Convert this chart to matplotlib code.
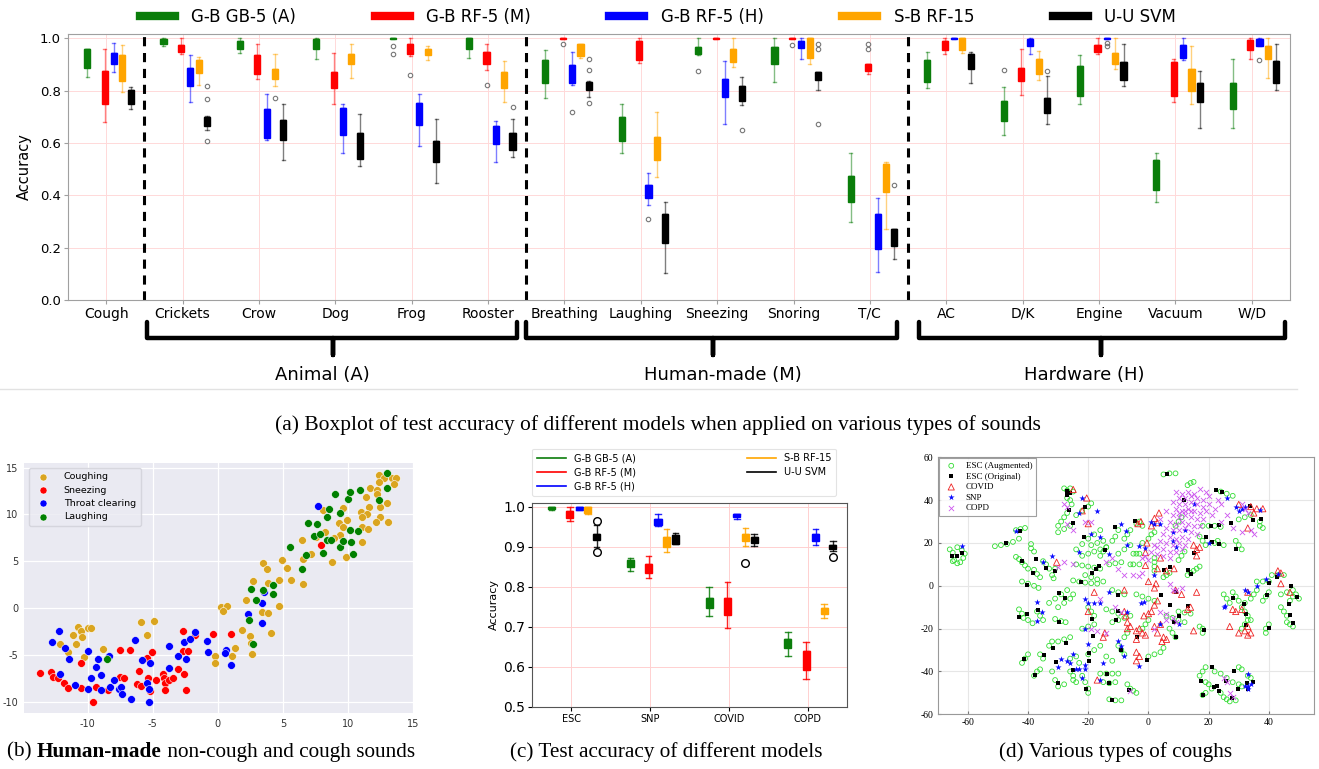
import numpy as np
import matplotlib
matplotlib.use('Agg')
import matplotlib.pyplot as plt
from matplotlib.lines import Line2D
from matplotlib.transforms import blended_transform_factory

plt.rcParams['axes.unicode_minus'] = False

# ---------------- data: (a) boxplot per sound type ----------------
categories = ['Cough', 'Crickets', 'Crow', 'Dog', 'Frog', 'Rooster',
              'Breathing', 'Laughing', 'Sneezing', 'Snoring', 'T/C',
              'AC', 'D/K', 'Engine', 'Vacuum', 'W/D']
model_names = ['G-B GB-5 (A)', 'G-B RF-5 (M)', 'G-B RF-5 (H)', 'S-B RF-15', 'U-U SVM']
model_colors = ['#0a7d0a', '#ff0000', '#0000ff', '#ffa500', '#000000']

gb5_q1 = [.887, .976, .958, .960, .998, .958, .830, .607, .939, .903, .375, .832, .684, .781, .422, .728]
gb5_q3 = [.957, .996, .990, .996, 1.00, 1.00, .916, .700, .967, .967, .473, .916, .761, .892, .534, .830]
gb5_lo = [.850, .969, .945, .919, .998, .925, .770, .562, .935, .832, .298, .809, .631, .748, .375, .658]
gb5_hi = [.960, 1.00, 1.00, 1.00, 1.00, 1.00, .954, .748, 1.00, 1.00, .560, .949, .812, .935, .560, .919]
gb5_fl = {'Frog': [.971, .941], 'Sneezing': [.875], 'D/K': [.878]}

rfm_q1 = [.748, .948, .865, .808, .941, .903, .998, .916, .998, .998, .875, .954, .837, .948, .781, .954]
rfm_q3 = [.875, .973, .935, .871, .976, .948, 1.00, .990, 1.00, 1.00, .900, .990, .888, .973, .910, .994]
rfm_lo = [.681, .939, .843, .747, .931, .880, .998, .906, .998, .998, .863, .941, .784, .941, .756, .919]
rfm_hi = [.957, .999, .977, .944, 1.00, .976, 1.00, 1.00, 1.00, 1.00, .900, 1.00, .957, 1.00, .922, 1.00]
rfm_fl = {'Frog': [.859], 'Rooster': [.822], 'Breathing': [.977], 'Snoring': [.975], 'T/C': [.976, .957]}

rfh_q1 = [.903, .817, .618, .632, .670, .597, .827, .391, .775, .963, .193, .998, .971, .998, .926, .971]
rfh_q3 = [.945, .888, .728, .734, .753, .665, .896, .438, .844, .990, .329, 1.00, .997, 1.00, .973, .997]
rfh_lo = [.871, .757, .613, .562, .590, .529, .821, .361, .674, .922, .108, .998, .941, .998, .916, .971]
rfh_hi = [.982, .935, .785, .748, .785, .682, .948, .486, .911, 1.00, .388, 1.00, 1.00, 1.00, 1.00, 1.00]
rfh_fl = {'Breathing': [.718], 'Laughing': [.308], 'Engine': [.980, .972], 'W/D': [.915]}

sb_q1 = [.836, .866, .846, .900, .935, .808, .931, .534, .908, .926, .411, .954, .863, .903, .798, .919]
sb_q3 = [.935, .916, .883, .941, .958, .871, .976, .623, .960, 1.00, .519, 1.00, .922, .945, .884, .971]
sb_lo = [.795, .820, .818, .847, .916, .757, .926, .471, .891, .900, .270, .944, .840, .884, .748, .849]
sb_hi = [.973, .929, .941, .976, .971, .911, .976, .718, 1.00, 1.00, .528, 1.00, .952, 1.00, .971, 1.00]
sb_fl = {'Crow': [.771]}

svm_q1 = [.747, .665, .613, .537, .528, .573, .804, .216, .760, .842, .206, .882, .716, .842, .756, .827]
svm_q3 = [.802, .700, .687, .636, .607, .636, .833, .327, .819, .869, .270, .941, .772, .910, .830, .913]
svm_lo = [.728, .651, .534, .513, .445, .545, .776, .104, .743, .804, .156, .827, .674, .817, .658, .804]
svm_hi = [.814, .702, .748, .710, .690, .693, .836, .375, .850, .869, .270, .949, .855, .976, .873, .976]
svm_fl = {'Crickets': [.819, .768, .608], 'Rooster': [.738], 'Breathing': [.921, .878, .753],
          'Sneezing': [.648], 'Snoring': [.976, .957, .674], 'T/C': [.441], 'D/K': [.873]}

# ---------------- data: (b) t-SNE of human-made sounds ----------------
cough_x = [12.40, 12.76, 13.35, 13.66, 12.37, 13.53, 11.70, 12.22, 12.22, 11.37, 13.01, 11.63, 12.47, 8.10,
           9.62, 11.01, 11.45, 11.06, 12.47, 13.09, 12.19, 9.31, 9.93, 9.62, 11.09, 11.57, 8.20, 9.36, 7.56,
           8.92, 11.06, 6.48, 9.88, 7.15, 8.80, 6.56, 4.91, 3.50, 5.35, 3.76, 3.88, 4.68, 2.70, 5.63, 6.56,
           2.13, 4.68, 0.28, 0.69, 0.41, 3.37, 3.83, 4.09, 1.85, 2.44, 2.55, 2.60, 1.34, 1.11, -0.23, -0.23,
           -10.75, -10.52, -10.01, -9.72, -11.16, -10.44, -12.14, -10.88, -11.52, -10.26, -8.82, -5.89,
           -4.89, -5.48]
cough_y = [14.27, 13.92, 13.95, 13.95, 13.49, 13.31, 12.85, 12.60, 12.14, 11.89, 11.18, 10.83, 10.76, 10.47,
           10.72, 10.26, 10.05, 9.76, 9.76, 9.23, 9.23, 9.12, 9.41, 8.63, 8.70, 8.41, 8.13, 7.77, 7.56,
           7.53, 7.03, 7.28, 5.47, 5.79, 4.97, 5.25, 5.15, 4.79, 4.26, 4.15, 2.66, 3.02, 2.91, 3.02, 2.56,
           0.82, 0.18, 0.14, 0.25, -0.32, -0.46, -0.53, -2.70, -2.34, -2.98, -3.73, -4.86, -4.30, -5.15,
           -5.15, -5.89, -2.02, -2.48, -2.13, -2.13, -2.88, -3.09, -3.80, -3.80, -4.69, -5.18, -4.33,
           -1.46, -1.38, -2.84]
sneeze_x = [-13.66, -12.81, -12.68, -12.29, -11.86, -11.55, -10.52, -10.49, -9.59, -9.34, -8.41, -7.54,
            -7.51, -7.18, -6.76, -6.22, -6.07, -5.94, -5.48, -5.40, -5.25, -5.07, -4.73, -4.24, -4.17,
            -4.06, -4.06, -3.76, -3.45, -3.09, -2.70, -2.70, -2.57, -2.47, -2.26, -1.75, -0.41, 1.00, 7.90]
sneeze_y = [-6.92, -6.85, -7.38, -7.45, -7.99, -8.56, -8.48, -5.86, -10.01, -8.38, -8.70, -4.51, -7.38,
            -7.49, -4.51, -8.06, -6.74, -8.27, -5.29, -7.49, -8.80, -4.69, -7.63, -7.06, -7.45, -7.99,
            -8.70, -7.70, -7.49, -6.46, -2.41, -4.54, -7.03, -8.70, -4.58, -2.91, -2.73, -2.73, 6.71]
throat_x = [-12.73, -12.19, -12.14, -11.78, -11.42, -10.98, -9.98, -9.98, -9.77, -9.34, -9.18, -8.95,
            -8.95, -8.36, -8.31, -7.97, -7.61, -7.46, -7.36, -6.64, -6.33, -5.81, -5.45, -5.30, -5.22,
            -5.30, -3.76, -3.73, -3.09, -2.60, -2.44, -2.16, -1.75, -0.87, -0.77, 0.62, 0.57, 1.03, 2.31,
            3.40, 3.37, 3.58, 7.66]
throat_y = [-3.66, -2.48, -6.99, -4.30, -5.40, -8.16, -8.59, -4.58, -7.42, -6.32, -5.40, -8.70, -7.17,
            -5.15, -8.45, -7.70, -8.63, -8.41, -9.16, -9.66, -3.44, -5.54, -7.95, -8.63, -5.86, -9.98,
            -4.01, -6.39, -5.11, -3.66, -5.43, -3.30, -2.59, -3.55, -4.69, -4.51, -4.79, -6.07, -0.67,
            0.60, -1.60, 1.70, 10.93]
laugh_x = [-8.54, 2.37, 2.52, 2.93, 3.45, 4.27, 4.27, 2.73, 5.56, 6.43, 6.74, 6.92, 7.36, 7.64, 7.82, 8.10,
           8.36, 8.38, 8.54, 8.67, 9.03, 9.41, 9.39, 9.59, 9.98, 10.13, 10.19, 10.24, 10.39, 10.80, 10.91,
           12.37, 12.99, 13.01]
laugh_y = [-5.47, -1.24, 2.02, 0.92, 1.92, 2.45, 1.49, -3.83, 6.50, 4.19, 5.64, 9.12, 7.74, 8.95, 7.88,
           5.89, 9.69, 7.28, 10.54, 7.31, 12.18, 10.19, 6.50, 7.14, 11.68, 12.42, 8.31, 7.03, 5.79, 8.20,
           12.60, 11.54, 14.41, 12.85]

# ---------------- data: (c) test accuracy per dataset ----------------
datasets = ['ESC', 'SNP', 'COVID', 'COPD']
c_gb5_q1 = [.993, .850, .746, .646]
c_gb5_q3 = [1.00, .867, .772, .669]
c_gb5_lo = [.992, .839, .727, .628]
c_gb5_hi = [1.00, .871, .800, .688]
c_rfm_q1 = [.971, .835, .729, .592]
c_rfm_q3 = [.988, .858, .772, .640]
c_rfm_lo = [.963, .821, .696, .571]
c_rfm_hi = [1.00, .878, .812, .663]
c_rfh_q1 = [.992, .954, .973, .914]
c_rfh_q3 = [1.00, .969, .981, .931]
c_rfh_lo = [.992, .952, .969, .903]
c_rfh_hi = [1.00, .981, .981, .943]
c_sb_q1 = [.983, .898, .915, .732]
c_sb_q3 = [1.00, .923, .931, .746]
c_sb_lo = [.982, .886, .902, .721]
c_sb_hi = [1.00, .943, .946, .756]
c_sb_fl = {'COVID': [.860]}
c_svm_q1 = [.917, .907, .908, .893]
c_svm_q3 = [.931, .929, .925, .904]
c_svm_lo = [.900, .907, .902, .888]
c_svm_hi = [.954, .933, .932, .915]
c_svm_fl = {'ESC': [.963, .886], 'COPD': [.875]}

# ---------------- data: (d) t-SNE of cough types ----------------
esc_orig_x = [-65.3, -63.7, -61.8, -47.2, -42.5, -41.9, -38.5, -40.5, -43.0, -40.5, -37.2, -34.1, -31.0, -36.7,
              -29.8, -29.8, -27.8, -27.2, -27.1, -26.1, -26.4, -24.9, -21.2, -21.3, -22.4, -18.6, -17.4, -16.4,
              -14.5, -11.0, -10.2, -10.0, -10.7, -9.2, -4.3, -3.8, -0.4, 6.3, 5.1, 7.0, 4.1, 7.2, 8.5, 9.1, 9.1,
              10.2, 11.8, 13.2, 14.2, 13.2, 15.2, 18.3, 19.2, 20.7, 21.0, 22.6, 23.5, 23.5, 24.3, 27.4, 28.2,
              29.1, 31.9, 32.4, 32.4, 33.8, 34.9, 37.5, 39.5, 39.9, 40.0, 42.6, 47.2, 46.7, 47.0, 48.1, 49.5,
              -41.4, -37.8, -34.7, -31.6, -30.7, -30.2, -27.5, -24.9, -20.8, -19.8, -19.6, -18.6, -18.5, -13.7,
              -13.1, -12.0, -6.3, 17.4, 18.1, 21.0, 21.8, 22.9, 23.3, 25.7, 27.8, 28.5, 29.8, 32.9, 33.2, 34.9]
esc_orig_y = [13.9, 13.9, 15.4, 20.1, 25.5, 11.5, 5.8, 0.3, -14.8, -13.2, 12.3, 8.3, 6.9, -11.4, -16.7, -3.3,
              -5.8, 44.4, 42.4, 43.1, 35.4, 29.1, 36.9, 22.9, 1.6, 6.2, 7.8, 9.2, 16.7, 27.3, -4.4, -11.7, -16.0,
              -30.1, 30.2, -24.1, -34.7, 52.2, 7.3, 8.9, -4.5, -9.0, -16.7, -3.1, -23.8, -14.0, 39.9, 7.3, 5.5,
              -9.3, 15.4, -20.7, 22.6, 27.9, 20.4, 44.7, 28.2, 19.3, 43.9, 29.4, -5.9, 17.1, -8.3, -13.2, -18.5,
              37.4, 30.8, 31.2, -4.5, 1.4, -19.6, 4.2, -0.2, -8.7, -13.7, -17.6, -5.1, -34.4, -41.7, -32.1,
              -29.1, -35.5, -45.6, -26.9, -39.4, -48.3, -31.3, -35.0, -15.3, -23.4, -41.3, -45.6, -53.4, -48.8,
              -44.4, -51.1, -37.9, -47.2, -46.6, -49.1, -44.4, -52.2, -39.9, -48.0, -45.3, -48.0, -44.9]
esc_aug_x = [-66, -65, -64.5, -63.5, -62.5, -61.5, -62, -63.5, -65, -61, -51, -49, -47, -45, -43, -44, -42.5,
             -41, -39, -39, -38, -44, -43, -42, -41, -40, -38, -37, -36, -35, -34, -33, -32, -31.5, -31, -42,
             -40, -38, -36.5, -43, -42, -41.5, -40, -38.5, -37, -36, -35, -31, -29, -27.5, -33, -31, -29, -27,
             -30, -28, -26, -25, -30, -29, -28, -27, -28, -27, -26, -25, -27, -26, -25.5, -30, -28, -26, -24,
             -22, -20, -19, -24, -22, -20, -18, -16, -22, -20, -18, -16, -14, -25, -23, -21, -19, -17, -24,
             -22, -20, -18, -16, -21, -19, -17, -15, -16, -15, -14, -19, -17, -15, -12, -11, -10, -8, -7, -6,
             -10, -8, -6, -5, -4, -3, -13, -11, -9, -6, -5, -3, -4, -3, -2, -2, 0, 1, 2, 2, 2, 2, 2, 5, 6, 7,
             10, 11, 12, 9, 10, 11, 13, 14, 15, 16, 17, 13, 14, 15, 5, 7, 9, 24, 26, 28, 18, 20, 22, 24, 17,
             18, 19, 22, 23, 25, 29, 30, 31, 30, 32, 34, 37, 37, 38, 25, 26, 27, 28, 29, 30, 32, 31, 32, 33,
             34, 31, 32, 33, 34, 35, 36, 38, 39, 40, 39, 39, 40, 41, 43, 45, 36, 38, 40, 44, 46, 48, 44, 45,
             46, 46, 47, 48, 47, 48, 49, 50, -4, -2, 0, 2, -8, -10, -12, -6, -8, -10, -12, -14, -12, -10, -20,
             -19, -18, -22, -20, -18, -16, -18, -20, -14, -12, -22, -21, -20, -20, -26, -24, -23, -30, -28,
             -26, -33, -32, -32, -31, -30, -28, -26, -25, -25, -24, -38, -37, -36, -42, -41, -40, -36, -35,
             -16, -14, -12, -10, -15, -13, -11, -13, -11, -9, -7, -6, -5, -4, -10, -9, -8, 0, 2, 4, -8, -7, -2,
             -1, 0, 7, 8, 9, 6, 8, 10, 12, 10, 12, 14, 17, 18, 18, 17, 18, 19, 19, 20, 21, 22, 24, 26, 24, 25,
             26, 28, 30, 31, 27, 29, 30, 31, 33, 34, 18, 19, 5]
esc_aug_y = [17, 15.5, 12, 10.5, 11, 13, 16.5, 18, 11.5, 15, 18.5, 19, 19.5, 20.5, 22, 26, 26.5, 27, 19.5,
             17.5, 16, 13.5, 12.5, 11, 9.5, 8, 7.5, 5.5, 4, 11.5, 10, 8, 5, 3.5, 8, 2, 1, 0, -1, -11, -13, -15,
             -16, -17.5, -12, -14, -16, -15.5, -16.5, -17, -8, -6, -4, -2, -10, -8, -6, -4, 28, 30, 32, 34,
             45.5, 44.5, 45.5, 44, 41, 40, 38, 25, 26.5, 28, 33, 35, 37, 38.5, 17, 19.5, 22, 24, 26, 14, 15,
             16, 17, 18, 2.5, 2, 1.5, 1.2, 1, 10, 9.5, 9, 8.5, 8, 5, 4, 3, 2, 14, 16, 18, 19, 20, 21, 21, 23,
             26, 22, 24, 26, 15, 17, 19, 15, 15, 15, 10, 10.5, 11, 10, 10, 10, 29, 30, 28, 20, 22, 24, 25, 13,
             11, 9, 7, 4, 5, 6, 12, 14, 16, 28, 30, 32, 5, 6, 7, 8, 9, 47, 48, 48.5, 52, 52.5, 52.5, 44, 43,
             42, 28, 28, 28, 27.5, 23, 21, 19, 20, 21, 19, 21, 19, 17, 31, 32, 33, 30, 28, 27, -4, -6, -8,
             -3, -5, -7, -8, -10, -12, -14, -16, -20, -18, -16, -6, -4, -2, -7, -5, -3, -22, -20, -18, 5, 5,
             5, 2, 2, 2, -4, -3, -2, -10, -12, -14, -17, -18, -19, -7, -5, -4, -6, -4, -5, -6, -7, -4, -3, -2,
             -14, -15, -16, -17, -11, -12, -13, -10, -12, -14, -20, -19, -18, -28, -30, -32, -33, -35, -42,
             -45, -48, -50, -34, -33, -36, -26, -25, -24, -28, -26, -40, -44, -47, -46, -40, -42, -44, -45,
             -42, -40, -39, -36, -34, -32, -32, -34, -41, -41, -41, -41, -45, -45.5, -45, -53, -53.5, -53.5,
             -46, -48, -49, -50, -28, -30, -32, -33, -32, -31, -24, -22, -20, -18, -16, -20, -22, -24, -14,
             -15, -16, -17, -12, -12.5, -13, -19, -20, -22, -42, -40, -38, -45, -46, -48, -40, -41, -43, -50,
             -52, -53, -45, -46, -47, -54, -53.5, -38, -39, -42, -43, -51, -50, -29]
covid_x = [-25, -20.5, -22, -20, -30.5, -2.5, -3.5, 2, 3, 1, 3.5, -0.5, -1, 4, 6, 3, 8.5, -1, 0, 2.5, 2, -8,
           -18, -20, -15, -14.5, -8, -7.5, -7, -6, -7, -4, -3, -2, -1, -4, -1.5, 0, 1, 2, 3, 4, 2, 3, 5, 4.5,
           6, -4, -3, -4, -17, 9, 11, 13, 14, 15, 16, 15, 16, 16, 17, 28, 29, 31, 27, 30, 32, 33, 34, 33, 43,
           44, 44, 47, 33, 35, 36, 38, 34, 33, 30]
covid_y = [45, 41, 35, 29, 11, 30, 29, 31.5, 29.5, 28, 34, 20, 15.5, 13, 7, 8, 8, 9.5, 2, 1, -1, -2, -3, -12,
           -24, -22, -12, -14, -17, -19, -20, -21, -20, -22, -23, -25, -14, -13, -12, -9, -7, -18, -19, -22,
           -24, -26, -25, -31, -33, -35, -44, -2, -4, -11, -10, -21, -3, 19, 14, 17, 18, -11, -12, -11, -19,
           -22, -21, -23, -22, -19, 7, 6, 1, -3, -3, 34, 36, 36, 37, 27, 38]
snp_x = [-62, -44, -37, -37, -35.5, -35, -32, -23, -22, -23, -17, -19, -16, -13, -9, -7.5, -7, -3, -1, -21,
         -20, -18, -16, -13, -20, -21, -15, -10, -9, -8, -7, -2.5, -1.5, -3, 1, 2, 2, 4, 4, 8, 8, 9, 10, 12,
         15, 20, 26, 25, 25.5, 29, 30, 31, 32, 37, 32, 33, 36, 39, 43, -29, -30, -27, -26, -25, -24, -23,
         -22, -21, -21, -16, 33, 32, 33, 34, 33]
snp_y = [18.5, 25.5, -7.5, -16.5, -12, 11, 14, 16, 41, 34, 35, 24, 23, 15, 29, 25.5, 19, 18.5, 17.5, -6,
         -8, -8, -8, -3, -27, -20, -36, -26, -28, -33, -12, -8, -7.5, -37.5, 30, 29, 5, 29, -18, 25, 21, 18,
         -18, 26, 38, 20, 41, -10, -9.5, 37, 35, 36, 37, 35.5, -2, -3, 0, 3, 5.5, -34, -38, -35, -36, -32,
         -39, -39, -43, -39, -37, -44, -41, -47, -47, -46, -48]
copd_x = [9, 11, 13, 15, 10, 12, 14, 16, 18, 8, 10, 12, 14, 16, 18, 20, 9, 11, 13, 15, 17, 19, 8, 10, 12, 14,
          16, 18, 7, 9, 11, 13, 15, 17, 6, 8, 10, 12, 14, 16, 5, 7, 9, 11, 13, 4, 6, 8, 10, 12, 3, 5, 7, 9, 11,
          1, 3, 5, 7, -1, -2, 0, 2, 21, 22, 23, 24, 20, 17, 19, 6, 4, 14, 12, 10, -28, -27, -27, -25, -21, -19,
          -30, -28, -25, -14, -12, -10, -8, -5, -3, -2, -16, -19, -17, -14, -11, -9, 4, 6, 7, 8, 9, 11, 6, 9,
          8, 2, -6, 26, 27, 25, 28, 31, 32, 33, 34, 35, 31, 26, 24, 28]
copd_y = [44, 43, 44, 43, 41, 41, 42, 41, 40, 39, 38, 38, 39, 38, 37, 38, 36, 35, 36, 35, 34, 35, 33, 32, 33,
          32, 31, 31, 30, 29, 30, 29, 28, 28, 27, 26, 26, 27, 25, 24, 24, 23, 22, 23, 22, 21, 20, 19, 20, 19,
          18, 17, 16, 16, 17, 16, 15, 14, 13, 14, 13, 12, 19, 33, 36, 40, 38, 42, 45, 44, 35, 31, 35, 35, 34,
          38, 37, 29, 26, 30, 30, 9, 11, 10, 11, 13, 8, 5, 5, 4.5, 6, -6, -20, -21, -22, -10, -12, -12, -13,
          1, -2, -2, -1, -16, -17, -15, -20, -49, -45, -50, -43, -52, 38, 36, 34, 26, 24, 25, 33, 30, 27]

# ---------------- layout helpers ----------------
W, H = 1319, 769
fig = plt.figure(figsize=(W / 100, H / 100), dpi=100)


def fx(px):
    return px / W


def fy(py):
    return 1 - py / H


def draw_boxes(ax, names, q1, q3, lo, hi, fliers, pos, width, color, capw, fl_style, wh_alpha):
    stats = []
    for i, n in enumerate(names):
        stats.append(dict(q1=q1[i], q3=q3[i], med=q3[i], whislo=lo[i], whishi=hi[i],
                          fliers=fliers.get(n, [])))
    ax.bxp(stats, positions=pos, widths=width, capwidths=capw, patch_artist=True,
           boxprops=dict(facecolor=color, edgecolor=color, linewidth=1),
           whiskerprops=dict(color=color, alpha=wh_alpha, linewidth=1),
           capprops=dict(color=color, alpha=wh_alpha, linewidth=1),
           medianprops=dict(color=color, linewidth=1),
           flierprops=fl_style, manage_ticks=False)


offsets = [-0.25, -0.02, 0.1, 0.21, 0.32]

# ---------------- (a) ----------------
ax = fig.add_axes([fx(68), fy(300), fx(1290 - 68), (300 - 34) / H])
xpos = np.arange(len(categories))
top_sets = [(gb5_q1, gb5_q3, gb5_lo, gb5_hi, gb5_fl),
            (rfm_q1, rfm_q3, rfm_lo, rfm_hi, rfm_fl),
            (rfh_q1, rfh_q3, rfh_lo, rfh_hi, rfh_fl),
            (sb_q1, sb_q3, sb_lo, sb_hi, sb_fl),
            (svm_q1, svm_q3, svm_lo, svm_hi, svm_fl)]
fl_small = dict(marker='o', markerfacecolor='none', markeredgecolor='#777777', markersize=3.2,
                markeredgewidth=0.8)
for k, (a, b, c, d, f) in enumerate(top_sets):
    draw_boxes(ax, categories, a, b, c, d, f, xpos + offsets[k], 0.08, model_colors[k], 0.04,
               fl_small, 0.5)
ax.set_xlim(-0.5, 15.5)
ax.set_ylim(0, 1.016)
ax.set_xticks(xpos)
ax.set_xticklabels(categories, fontsize=10)
ax.set_yticks([0, 0.2, 0.4, 0.6, 0.8, 1.0])
ax.set_yticklabels(['0.0', '0.2', '0.4', '0.6', '0.8', '1.0'], fontsize=9.5)
ax.set_ylabel('Accuracy', fontsize=10.5, labelpad=6)
ax.grid(True, color='#ffd9d9', linewidth=0.7)
ax.set_axisbelow(True)
for s in ax.spines.values():
    s.set_color('#a0a0a0')
ax.tick_params(length=3, color='#a0a0a0', pad=2)
for xv in [0.5, 5.5, 10.5]:
    ax.axvline(xv, color='black', linestyle=(0, (3, 2.2)), linewidth=2.2)

trans = blended_transform_factory(ax.transData, ax.transAxes)
groups = [('Animal (A)', 0.53, 5.38, 2.97, 2.83),
          ('Human-made (M)', 5.5, 10.36, 7.94, 8.07),
          ('Hardware (H)', 10.64, 15.43, 13.02, 12.8)]
for label, x0, x1, xc, xl in groups:
    ax.add_line(Line2D([x0, x0, xc, xc, xc, x1, x1],
                       [-0.083, -0.143, -0.143, -0.207, -0.143, -0.143, -0.083],
                       transform=trans, color='black', linewidth=3.2, clip_on=False,
                       solid_joinstyle='round', solid_capstyle='round'))
    ax.text(xl, -0.282, label, transform=trans, ha='center', va='center', fontsize=13)

fig.add_artist(Line2D([0, fx(1297)], [fy(389), fy(389)], color='#e2e2e2', linewidth=1))

handles = [Line2D([], [], color=c, linewidth=6) for c in model_colors]
fig.legend(handles, model_names, loc='center', bbox_to_anchor=(fx(658), fy(17)), ncol=5,
           frameon=False, fontsize=12, handlelength=2.1, handletextpad=1.0, columnspacing=4.7)

fig.text(fx(658), fy(425),
         '(a) Boxplot of test accuracy of different models when applied on various types of sounds',
         ha='center', va='center', fontsize=15.5, family='Liberation Serif')

# ---------------- (b) ----------------
axb = fig.add_axes([fx(24), fy(713), fx(413 - 24), (713 - 463) / H])
axb.set_facecolor('#EAEAF2')
axb.grid(True, color='white', linewidth=0.9)
axb.set_axisbelow(True)
for s in axb.spines.values():
    s.set_visible(False)
for xs, ys, col, lab in [(cough_x, cough_y, '#DAA520', 'Coughing'),
                         (sneeze_x, sneeze_y, '#ff0000', 'Sneezing'),
                         (throat_x, throat_y, '#0000ff', 'Throat clearing'),
                         (laugh_x, laugh_y, '#008000', 'Laughing')]:
    axb.scatter(xs, ys, s=32, c=col, edgecolors='white', linewidths=0.4, label=lab)
axb.set_xlim(-14.9, 15)
axb.set_ylim(-11.2, 15.5)
axb.set_xticks([-10, -5, 0, 5, 10, 15])
axb.set_yticks([-10, -5, 0, 5, 10, 15])
axb.tick_params(length=0, labelsize=7, labelcolor='#333333', pad=4)
lb = axb.legend(loc='upper left', fontsize=6.8, frameon=True, borderpad=0.5, labelspacing=0.45,
                handletextpad=1.2, markerscale=0.9)
lb.get_frame().set_facecolor('#EAEAF2')
lb.get_frame().set_edgecolor('#d0d0d8')

# ---------------- (c) ----------------
axc = fig.add_axes([fx(532), fy(707), fx(315), (707 - 503) / H])
cpos = np.arange(len(datasets))
c_sets = [(c_gb5_q1, c_gb5_q3, c_gb5_lo, c_gb5_hi, {}),
          (c_rfm_q1, c_rfm_q3, c_rfm_lo, c_rfm_hi, {}),
          (c_rfh_q1, c_rfh_q3, c_rfh_lo, c_rfh_hi, {}),
          (c_sb_q1, c_sb_q3, c_sb_lo, c_sb_hi, c_sb_fl),
          (c_svm_q1, c_svm_q3, c_svm_lo, c_svm_hi, c_svm_fl)]
fl_big = dict(marker='o', markerfacecolor='none', markeredgecolor='black', markersize=5.5,
              markeredgewidth=1.0)
for k, (a, b, c, d, f) in enumerate(c_sets):
    draw_boxes(axc, datasets, a, b, c, d, f, cpos + offsets[k], 0.09, model_colors[k], 0.07,
               fl_big, 0.85)
axc.set_xlim(-0.5, 3.5)
axc.set_ylim(0.5, 1.009)
axc.set_xticks(cpos)
axc.set_xticklabels(datasets, fontsize=7)
axc.set_yticks([0.5, 0.6, 0.7, 0.8, 0.9, 1.0])
axc.set_yticklabels(['0.5', '0.6', '0.7', '0.8', '0.9', '1.0'], fontsize=10)
axc.set_ylabel('Accuracy', fontsize=8, labelpad=3)
axc.grid(True, color='#ffd0d0', linewidth=0.7)
axc.set_axisbelow(True)
for s in axc.spines.values():
    s.set_color('#555555')
axc.tick_params(length=3, pad=2)
ch = [Line2D([], [], color=c, linewidth=1.2) for c in model_colors]
lc = axc.legend(ch, model_names, loc='lower left',
                bbox_to_anchor=(fx(532), fy(496), fx(304), 49 / H),
                bbox_transform=fig.transFigure, mode='expand', ncol=2, fontsize=7,
                frameon=True, borderaxespad=0, handlelength=3.0, labelspacing=0.4, borderpad=0.5)
lc.get_frame().set_edgecolor('#dddddd')
lc.get_frame().set_linewidth(0.8)

# ---------------- (d) ----------------
axd = fig.add_axes([fx(937.7), fy(714.3), fx(376.3), 257 / H])
axd.scatter(esc_aug_x, esc_aug_y, s=12, facecolors='none', edgecolors='#33dd33', linewidths=0.6,
            label='ESC (Augmented)')
axd.scatter(esc_orig_x, esc_orig_y, s=12, marker='s', c='black', linewidths=0, label='ESC (Original)')
axd.scatter(covid_x, covid_y, s=20, marker='^', facecolors='none', edgecolors='#ee2222', linewidths=0.6,
            label='COVID')
axd.scatter(snp_x, snp_y, s=22, marker='*', c='#0a0aff', linewidths=0, label='SNP')
axd.scatter(copd_x, copd_y, s=14, marker='x', c='#cc55ee', linewidths=0.6, label='COPD')
axd.set_xlim(-70, 55)
axd.set_ylim(-60, 60)
axd.set_xticks([-60, -40, -20, 0, 20, 40])
axd.set_yticks([-60, -40, -20, 0, 20, 40, 60])
for t in axd.get_xticklabels() + axd.get_yticklabels():
    t.set_family('Liberation Serif')
    t.set_fontsize(7)
axd.tick_params(direction='in', length=2.5, color='#777777', pad=3)
axd.grid(True, color='#e6e6e6', linewidth=0.8)
axd.set_axisbelow(True)
for s in axd.spines.values():
    s.set_color('#999999')
ld = axd.legend(loc='upper left', borderaxespad=0.1, fancybox=False, handletextpad=0.6,
                labelspacing=0.25, borderpad=0.4, prop=dict(family='Liberation Serif', size=6.5))
ld.get_frame().set_edgecolor('#888888')
ld.get_frame().set_linewidth(0.8)

# ---------------- captions ----------------
cap_kw = dict(va='center', fontsize=15.3, family='Liberation Serif')
fig.text(fx(666), fy(752), '(c) Test accuracy of different models', ha='center', **cap_kw)
fig.text(fx(1116), fy(752), '(d) Various types of coughs', ha='center', **cap_kw)

renderer = fig.canvas.get_renderer()
t1 = fig.text(fx(7), fy(752), '(b) ', ha='left', **cap_kw)
e1 = t1.get_window_extent(renderer)
t2 = fig.text(e1.x1 / W, fy(752), 'Human-made', ha='left', fontweight='bold', **cap_kw)
e2 = t2.get_window_extent(renderer)
fig.text(e2.x1 / W, fy(752), ' non-cough and cough sounds', ha='left', **cap_kw)

fig.savefig('out.png', dpi=100)
